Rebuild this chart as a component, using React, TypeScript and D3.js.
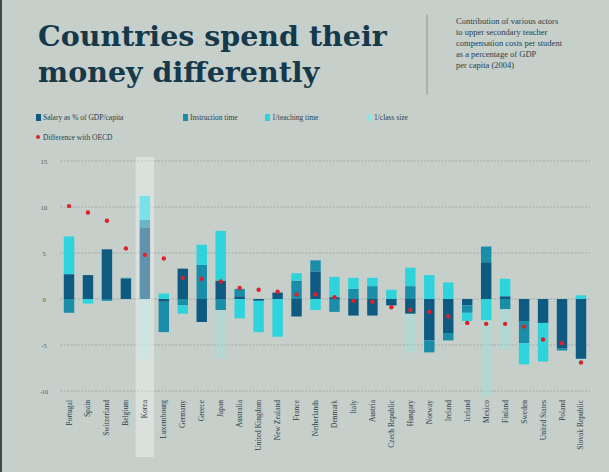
import React from "react";
import * as d3 from "d3";

const countries = ["Portugal","Spain","Switzerland","Belgium","Korea","Luxembourg","Germany","Greece","Japan","Australia","United Kingdom","New Zealand","France","Netherlands","Denmark","Italy","Austria","Czech Republic","Hungary","Norway","Ireland","Iceland","Mexico","Finland","Sweden","United States","Poland","Slovak Republic"];
const salary =      [2.7,2.6,5.4,2.2,7.8,-0.3,3.3,-2.5,2.0,0.3,-0.2,0.7,-1.9,3.0,0.2,-1.8,-1.8,-0.7,-1.6,-4.5,-3.7,-0.7,4.0,0.3,-2.4,-2.6,-5.4,-6.5];
const instruction = [-1.5,0,-0.2,0.1,0.8,-3.3,-0.7,3.7,-1.2,0.8,0,0,2.0,1.2,-1.4,1.1,1.4,0,1.4,-1.3,-0.8,-0.8,1.7,-1.1,-2.4,0,-0.2,0];
const teaching =    [4.1,-0.5,0,0,2.6,0.6,-0.9,2.2,5.4,-2.1,-3.4,-4.1,0.8,-1.2,2.2,1.2,0.9,1.0,2.0,2.6,1.8,-0.9,-2.3,1.9,-2.3,-4.2,0,0.4];
const classSize =   [0,0,0,0,-6.5,0,0,0,-5.2,0,0,0,0,0,0,0,0,0,-4.2,0,0,0,-8.3,-4.4,0,0,0,-0.5];
const diffOECD =    [10.1,9.4,8.5,5.5,4.8,4.4,2.3,2.2,1.9,1.2,1.0,0.8,0.5,0.5,0.2,-0.2,-0.3,-0.9,-1.2,-1.4,-1.9,-2.6,-2.7,-2.7,-3.0,-4.4,-4.8,-6.9];
const yTicks = [15,10,5,0,-5,-10];
const seriesNames = ["Salary as % of GDP/capita","Instruction time","1/teaching time","1/class size"];
const colors = ["#0e5a80","#1a8ea8","#2fd3dc","#8fe6e4"];
const opac = [1,1,1,0.35];

export default function App() {
  const W = 609, H = 472;
  const x = d3.scaleBand().domain(countries).range([60, 590]).paddingInner(0.45).paddingOuter(0.2);
  const y = d3.scaleLinear().domain([-10, 15]).range([391, 161]);
  const series = [salary, instruction, teaching, classSize];
  const rects: JSX.Element[] = [];
  countries.forEach((c, i) => {
    let pos = 0, neg = 0;
    series.forEach((s, k) => {
      const v = s[i];
      if (!v) return;
      let a, b;
      if (v > 0) { a = pos; b = pos + v; pos = b; } else { a = neg; b = neg + v; neg = b; }
      rects.push(<rect key={c + k} x={x(c)} width={x.bandwidth()} y={y(Math.max(a, b))} height={Math.abs(y(a) - y(b))} fill={colors[k]} opacity={opac[k]} />);
    });
  });
  const kx = x("Korea")! - 4;
  return (
    <svg width={W} height={H} style={{ position: "absolute", left: 0, top: 0 }}>
      <rect width={W} height={H} fill="#c6cfca" />
      <rect x={0} width={2} height={H} fill="#3a4a4a" />
      <text x={38} y={46} fontFamily="DejaVu Serif" fontWeight="bold" fontSize={28.5} fill="#16394a">Countries spend their</text>
      <text x={38} y={82} fontFamily="DejaVu Serif" fontWeight="bold" fontSize={28.5} fill="#16394a">money differently</text>
      <line x1={427} x2={427} y1={15} y2={95} stroke="#7f8a86" strokeWidth={0.8} />
      {["Contribution of various actors","to upper secondary teacher","compensation costs per student","as a percentage of GDP","per capita (2004)"].map((t, i) => (
        <text key={t} x={456} y={24 + i * 11} fontFamily="Liberation Serif" fontSize={8.5} fill="#2b3f4a">{t}</text>
      ))}
      {seriesNames.map((n, i) => (
        <g key={n} transform={`translate(${[36, 183, 265, 367][i]},119)`}>
          <rect x={0} y={-5} width={5} height={7} fill={colors[i]} />
          <text x={7} y={1} fontFamily="Liberation Serif" fontSize={7.5} fill="#2b3f4a">{n}</text>
        </g>
      ))}
      <circle cx={38} cy={137} r={2} fill="#e0202a" />
      <text x={43} y={140} fontFamily="Liberation Serif" fontSize={7.5} fill="#2b3f4a">Difference with OECD</text>
      {yTicks.map(t => (
        <g key={t}>
          <line x1={60} x2={590} y1={y(t)} y2={y(t)} stroke="#98a29e" strokeDasharray="2,1.5" strokeWidth={0.8} />
          <text x={44} y={y(t) + 2.5} textAnchor="middle" fontFamily="Liberation Serif" fontSize={6.5} fill="#4a5a5a">{t}</text>
        </g>
      ))}
      {rects}
      <rect x={kx} y={157} width={x.bandwidth() + 8} height={300} fill="#ffffff" opacity={0.35} />
      {countries.map((c, i) => (
        <circle key={c} cx={x(c)! + x.bandwidth() / 2} cy={y(diffOECD[i])} r={2.2} fill="#e0202a" />
      ))}
      {countries.map(c => (
        <text key={c} transform={`translate(${x(c)! + x.bandwidth() / 2 + 2.5},400) rotate(-90)`} textAnchor="end" fontFamily="Liberation Serif" fontSize={7.5} fill="#2b3f4a">{c}</text>
      ))}
    </svg>
  );
}
